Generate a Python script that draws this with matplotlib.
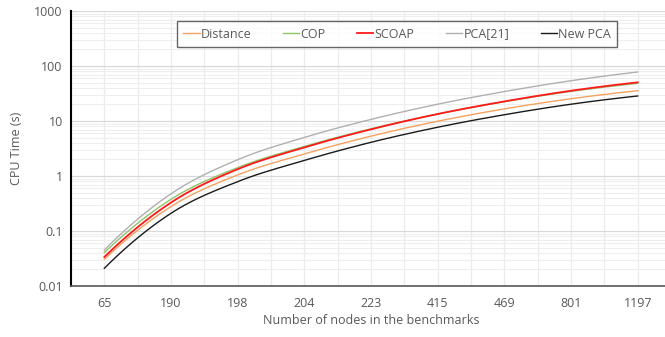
import matplotlib
matplotlib.use("Agg")
import matplotlib.pyplot as plt
from matplotlib.ticker import LogLocator, NullFormatter, FixedLocator
import numpy as np

# data (CPU time, seconds)
nodes = ["65", "190", "198", "204", "223", "415", "469", "801", "1197"]
distance = [0.0306, 0.278, 1.046, 2.52, 5.31, 9.9, 16.6, 25.4, 35.6]
cop = [0.0405, 0.377, 1.42, 3.45, 7.21, 13.4, 22.4, 34.5, 48.3]
scoap = [0.0337, 0.329, 1.33, 3.31, 7.06, 13.4, 22.7, 35.5, 50.4]
pca21 = [0.0452, 0.475, 1.98, 5.03, 10.7, 20.2, 34.3, 54, 77.8]
new_pca = [0.021, 0.21, 0.79, 1.92, 4.1, 7.7, 13, 20.2, 28.5]

series = [("Distance", distance, "#f6a15e", 1.0),
          ("COP", cop, "#8fc36b", 1.0),
          ("SCOAP", scoap, "#ff1a1a", 1.3),
          ("PCA[21]", pca21, "#b0b0b0", 1.0),
          ("New PCA", new_pca, "#1a1a1a", 1.0)]

plt.rcParams["font.family"] = ["Open Sans", "DejaVu Sans"]
TXT = "#595959"


def smooth(xs, ys, n=20):
    # catmull-rom through the points in log space (smoothed line look)
    lx = np.asarray(xs, float)
    ly = np.log10(ys)
    # end phantoms from a quadratic through the three end points
    px = np.concatenate([[3 * lx[0] - 3 * lx[1] + lx[2]], lx, [3 * lx[-1] - 3 * lx[-2] + lx[-3]]])
    py = np.concatenate([[3 * ly[0] - 3 * ly[1] + ly[2]], ly, [3 * ly[-1] - 3 * ly[-2] + ly[-3]]])
    ox, oy = [], []
    t = np.linspace(0, 1, n, endpoint=False)
    for i in range(1, len(px) - 2):
        for arr, out in ((px, ox), (py, oy)):
            p0, p1, p2, p3 = arr[i - 1:i + 3]
            out.extend(0.5 * (2 * p1 + (-p0 + p2) * t
                              + (2 * p0 - 5 * p1 + 4 * p2 - p3) * t ** 2
                              + (-p0 + 3 * p1 - 3 * p2 + p3) * t ** 3))
    ox.append(lx[-1]); oy.append(ly[-1])
    return np.array(ox), 10 ** np.array(oy)


fig = plt.figure(figsize=(6.65, 3.37), dpi=100)
ax = fig.add_axes([71 / 665, 51 / 337, 600 / 665, 275 / 337])
idx = np.arange(len(nodes))
for name, vals, col, lw in series:
    sx, sy = smooth(idx, vals)
    ax.plot(sx, sy, color=col, lw=lw, label=name)

ax.set_yscale("log")
ax.set_ylim(0.01, 1000)
ax.set_xlim(-0.5, len(nodes) - 0.5)
ax.set_xticks(idx)
ax.set_xticklabels(nodes)
ax.xaxis.set_minor_locator(FixedLocator(np.arange(-0.5, len(nodes), 1.0)))
ax.yaxis.set_minor_locator(LogLocator(base=10, subs=np.arange(2, 10), numticks=20))
ax.yaxis.set_minor_formatter(NullFormatter())
ax.set_yticks([0.01, 0.1, 1, 10, 100, 1000])
ax.set_yticklabels(["0.01", "0.1", "1", "10", "100", "1000"])

ax.grid(True, which="major", axis="y", color="#d9d9d9", lw=0.9)
ax.grid(True, which="minor", axis="y", color="#eeeeee", lw=0.8)
ax.grid(True, which="both", axis="x", color="#ebebeb", lw=0.9)
ax.set_axisbelow(True)

ax.tick_params(which="both", length=0, labelsize=9, labelcolor=TXT, pad=6)
ax.tick_params(axis="x", pad=8)
for s in ("top", "right"):
    ax.spines[s].set_visible(False)
ax.spines["left"].set_color("black")
ax.spines["left"].set_linewidth(1.5)
ax.spines["bottom"].set_color("#595959")
ax.spines["bottom"].set_linewidth(1.2)

ax.set_xlabel("Number of nodes in the benchmarks", fontsize=9, color=TXT, labelpad=3)
ax.set_ylabel("CPU Time (s)", fontsize=9, color=TXT, labelpad=8)

leg = ax.legend(loc="center", ncol=5, bbox_to_anchor=(106 / 600, 239 / 275, 440 / 600, 26 / 275),
                mode="expand", fontsize=9, frameon=True, fancybox=False, handlelength=1.3,
                handletextpad=0.1, borderaxespad=0, borderpad=0.5)
leg.get_frame().set_edgecolor("#404040")
leg.get_frame().set_linewidth(1.0)
for t in leg.get_texts():
    t.set_color(TXT)

fig.savefig("out.png", dpi=100)
